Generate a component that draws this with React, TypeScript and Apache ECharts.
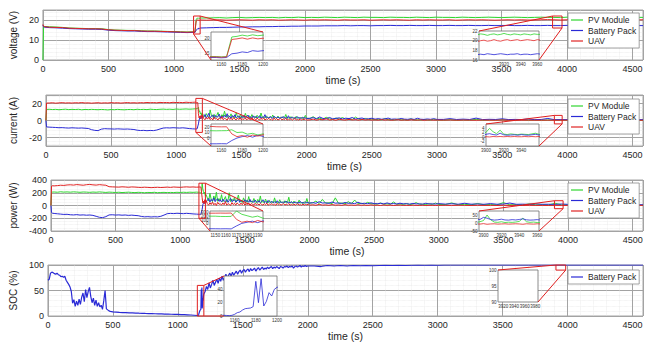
import React, { useEffect, useRef } from 'react';
import * as echarts from 'echarts';

const FONT = '"Liberation Sans", Arial, Helvetica, sans-serif';
const C_PV = '#2fd62f';
const C_BAT = '#2a2ad6';
const C_UAV = '#e02424';
const C_ZOOM = '#e01e1e';

function seq(a: number, b: number, step: number): number[] {
  const out: number[] = [];
  for (let t = a; t <= b + 1e-6; t += step) out.push(Math.round(t * 100) / 100);
  return out;
}

// ---------- time stamps ----------
const T_A = [0, 5, 10, ...seq(25, 1150, 25)];
const T_B = seq(1155, 1200, 5);
const T_C = seq(1210, 2000, 10);
const T_D = seq(2025, 3000, 25);
const T_E = [...seq(3050, 4550, 50), 4580];
const TV_A = [0, 5, 10, ...seq(50, 1150, 50)];
const TV_C = [...seq(1250, 4550, 50), 4580];
const TS_A = seq(0, 500, 10);
const TS_B = seq(525, 1150, 25);
const TS_C = seq(1152.5, 1200, 2.5);
const TS_E = [...seq(2050, 4550, 50), 4580];
const T_I = seq(3888, 3964, 4);

// ---------- voltage (V) ----------
const VOLT_PV_A = [0, 17.0, 16.8, 16.6, 16.5, 16.3, 16.0, 15.9, 15.8, 15.7, 15.7, 15.6, 15.2, 15.0, 14.9, 14.8, 14.8, 14.6, 14.5, 14.5, 14.4, 14.3, 14.2, 14.1, 14.0, 14.1];
const VOLT_UAV_A = [17.8, 16.9, 16.7, 16.4, 16.3, 16.2, 15.9, 15.8, 15.7, 15.6, 15.6, 15.5, 15.1, 14.9, 14.8, 14.7, 14.7, 14.5, 14.4, 14.4, 14.3, 14.2, 14.1, 14.0, 13.9, 14.0];
const VOLT_BAT_A = [17.5, 16.6, 16.4, 16.2, 16.1, 15.9, 15.7, 15.6, 15.5, 15.4, 15.4, 15.3, 14.9, 14.7, 14.6, 14.5, 14.5, 14.3, 14.2, 14.2, 14.1, 14.0, 13.9, 13.8, 13.7, 13.8];
const VOLT_PV_B = [14.1, 14.0, 14.1, 20.4, 20.6, 21.0, 20.7, 21.1, 20.8, 21.0];
const VOLT_UAV_B = [14.0, 13.9, 14.0, 19.6, 19.8, 20.1, 19.7, 20.1, 19.8, 20.0];
const VOLT_BAT_B = [13.8, 13.7, 13.8, 15.0, 15.2, 15.6, 15.4, 16.0, 15.8, 16.0];
const VOLT_PV_C = [
  21.0, 21.1, 21.2, 21.0, 21.2, 21.3, 21.1, 21.2, 21.3, 21.2,
  21.3, 21.1, 21.3, 21.2, 21.4, 21.2, 21.3, 21.2, 21.4, 21.3,
  21.2, 21.4, 21.3, 21.2, 21.4, 21.3, 21.3, 21.2, 21.4, 21.3,
  21.3, 21.2, 21.4, 21.3, 21.2, 21.4, 21.3, 21.3, 21.2, 21.4,
  21.3, 21.2, 21.3, 21.4, 21.3, 21.2, 21.3, 21.4, 21.3, 21.2,
  21.3, 21.4, 21.3, 21.3, 21.2, 21.4, 21.3, 21.2, 21.3, 21.4,
  21.3, 21.2, 21.3, 21.4, 21.3, 21.2, 21.3, 21.3];
const VOLT_UAV_C = [
  19.9, 20.0, 20.1, 19.9, 20.0, 20.1, 20.0, 19.9, 20.1, 20.0,
  20.1, 19.9, 20.0, 20.1, 20.0, 19.9, 20.1, 20.0, 20.1, 20.0,
  19.9, 20.1, 20.0, 20.0, 20.1, 19.9, 20.0, 20.1, 20.0, 20.1,
  20.0, 19.9, 20.1, 20.0, 20.1, 20.0, 20.0, 20.1, 19.9, 20.0,
  20.1, 20.0, 20.1, 20.0, 19.9, 20.0, 20.1, 20.0, 20.1, 20.0,
  20.0, 20.1, 20.2, 20.1, 20.0, 20.1, 20.2, 20.1, 20.0, 20.1,
  20.2, 20.1, 20.0, 20.1, 20.2, 20.1, 20.1, 20.1];
const VOLT_BAT_C = [
  16.1, 16.2, 16.3, 16.3, 16.4, 16.5, 16.5, 16.6, 16.6, 16.7,
  16.7, 16.8, 16.8, 16.9, 16.9, 17.0, 17.0, 17.0, 17.1, 17.1,
  17.1, 17.2, 17.1, 17.2, 17.2, 17.1, 17.2, 17.2, 17.3, 17.2,
  17.2, 17.3, 17.2, 17.2, 17.3, 17.2, 17.2, 17.3, 17.2, 17.2,
  17.3, 17.2, 17.2, 17.3, 17.2, 17.2, 17.3, 17.2, 17.2, 17.3,
  17.2, 17.2, 17.3, 17.2, 17.2, 17.3, 17.2, 17.2, 17.3, 17.2,
  17.2, 17.3, 17.2, 17.2, 17.3, 17.2, 17.2, 17.2];
const VOLT_PV_I = [21.2, 21.4, 21.3, 21.1, 21.3, 21.4, 21.2, 21.3, 21.5, 21.3, 21.2, 21.4, 21.3, 21.2, 21.4, 21.3, 21.2, 21.4, 21.3, 21.3];
const VOLT_UAV_I = [19.8, 20.0, 20.1, 19.9, 20.0, 20.2, 20.0, 19.9, 20.1, 20.2, 20.0, 20.1, 20.2, 20.0, 20.1, 20.2, 20.1, 20.0, 20.2, 20.1];
const VOLT_BAT_I = [17.1, 17.2, 17.1, 17.3, 17.2, 17.1, 17.2, 17.3, 17.2, 17.1, 17.2, 17.2, 17.3, 17.1, 17.2, 17.2, 17.1, 17.2, 17.3, 17.2];

// ---------- current (A) ----------
const CUR_PV_A = [0, 13.0, 12.8,
  13.2, 12.9, 13.1, 12.7, 13.0, 13.3, 12.8, 13.1, 12.9, 13.2,
  12.6, 13.0, 12.8, 13.1, 12.9, 12.7, 13.0, 12.8, 12.5, 12.9,
  12.7, 13.1, 12.8, 12.6, 12.9, 13.0, 12.7, 13.2, 12.9, 13.1,
  12.8, 13.3, 13.0, 12.9, 13.2, 13.4, 13.1, 13.3, 13.0, 13.5,
  13.2, 13.4, 13.6, 13.3, 13.5, 13.8];
const CUR_BAT_A = [0, -7.5, -7.6,
  -7.8, -8.0, -8.2, -8.5, -8.4, -8.7, -8.9, -8.6, -8.8, -9.0,
  -8.8, -9.1, -9.4, -10.8, -11.6, -11.9, -10.2, -9.6, -9.8, -9.9,
  -10.1, -9.8, -10.0, -10.2, -10.0, -10.3, -10.6, -11.4, -11.8, -11.6,
  -12.0, -11.7, -11.9, -11.2, -10.0, -8.9, -8.6, -8.8, -8.5, -8.7,
  -8.9, -8.6, -9.0, -9.5, -9.8, -10.0];
const CUR_UAV_A = [0, 20.5, 20.8,
  20.6, 20.9, 20.4, 20.7, 21.0, 20.6, 20.8, 20.5, 20.9, 20.7,
  21.1, 20.6, 20.8, 20.4, 20.7, 20.9, 20.5, 20.8, 20.6, 21.0,
  20.7, 20.9, 20.5, 20.8, 21.1, 20.7, 20.9, 20.6, 21.0, 20.8,
  21.2, 20.9, 21.1, 20.8, 21.3, 21.0, 21.2, 20.9, 21.4, 21.1,
  21.3, 21.0, 21.5, 21.2, 21.4, 21.6];
const CUR_PV_B = [13.6, 13.8, 13.9, 15.5, 10.5, 11.2, 7.5, 9.0, 6.0, 8.0];
const CUR_BAT_B = [-10.0, -9.8, -10.0, -4.0, 0.5, 3.0, 5.0, 2.0, 5.5, 3.5];
const CUR_UAV_B = [21.0, 20.8, 21.0, 8.0, 3.0, 5.0, 2.0, 6.0, 4.0, 6.5];
const CUR_PV_C = [
  6.5, 4.2, 8.1, 5.0, 3.8, 12.5, 5.5, 4.0, 7.2, 3.6,
  5.8, 9.5, 4.1, 3.3, 6.9, 4.5, 11.0, 4.8, 3.5, 6.0,
  4.2, 7.8, 3.9, 5.1, 3.0, 9.0, 4.4, 3.6, 6.3, 3.8,
  5.0, 3.2, 8.4, 4.0, 3.4, 5.6, 3.1, 7.0, 3.9, 4.6,
  3.0, 6.2, 3.7, 2.9, 8.8, 3.5, 4.2, 2.8, 5.5, 3.3,
  2.7, 4.8, 3.1, 6.5, 2.9, 3.6, 2.5, 5.2, 3.0, 2.6,
  4.4, 2.8, 3.3, 7.1, 2.7, 3.5, 2.4, 4.6, 2.9, 3.1,
  2.3, 5.0, 2.6, 3.2, 2.5, 4.1, 2.2, 2.9, 6.0, 2.6];
const CUR_BAT_C = [
  4.5, 7.0, 2.8, 5.5, 8.5, 3.2, 4.8, 6.6, 2.5, 5.9,
  3.8, 4.6, 7.4, 2.9, 5.2, 3.5, 6.1, 4.0, 8.0, 3.1,
  4.9, 2.7, 5.8, 3.9, 6.8, 3.0, 4.4, 5.3, 2.6, 4.7,
  3.6, 5.9, 2.8, 4.3, 6.4, 3.1, 4.0, 2.7, 5.5, 3.4,
  4.6, 2.9, 3.8, 5.7, 2.6, 4.2, 3.3, 6.9, 3.0, 3.9,
  2.8, 4.5, 3.2, 2.7, 5.1, 3.5, 2.9, 4.1, 2.6, 3.7,
  3.0, 4.8, 2.7, 3.4, 2.5, 5.6, 3.1, 2.8, 3.9, 2.6,
  3.3, 2.4, 4.4, 2.9, 3.1, 2.5, 3.8, 2.7, 3.2, 2.4];
const CUR_UAV_C = [
  2.5, 0.8, 3.5, 1.6, 4.2, 1.0, 2.8, 0.5, 3.9, 1.7,
  2.2, 0.6, 3.1, 1.4, 4.5, 0.9, 2.6, 1.8, 0.4, 3.3,
  1.2, 2.7, 0.7, 3.6, 1.5, 0.8, 2.9, 1.1, 3.4, 0.6,
  2.0, 1.3, 3.0, 0.5, 2.4, 1.6, 0.9, 3.2, 1.0, 2.1,
  0.6, 2.8, 1.4, 0.7, 2.5, 1.2, 3.1, 0.5, 1.9, 1.1,
  2.6, 0.8, 1.7, 0.4, 2.9, 1.0, 2.2, 0.6, 1.5, 2.4,
  0.7, 1.8, 1.0, 2.7, 0.5, 1.6, 0.9, 2.1, 0.6, 1.4,
  2.3, 0.8, 1.2, 0.5, 1.9, 0.7, 1.5, 1.0, 2.0, 0.6];
const CUR_PV_D = [2.2, 4.5, 1.8, 2.6, 1.5, 3.8, 2.0, 1.4, 2.9, 1.6, 3.5, 1.3, 2.1, 1.2, 4.0, 1.5, 1.1, 2.4, 1.0, 1.7,
  0.9, 1.4, 0.8, 2.2, 0.9, 1.1, 0.7, 1.6, 0.8, 1.0, 0.6, 1.9, 0.7, 0.9, 0.6, 1.2, 0.8, 0.6, 1.5, 0.7];
const CUR_BAT_D = [2.6, 3.4, 2.1, 4.2, 2.4, 2.0, 3.6, 1.9, 2.5, 3.1, 1.8, 2.7, 2.2, 3.5, 1.7, 2.3, 2.9, 1.6, 2.1, 2.6,
  1.6, 2.2, 1.5, 1.9, 2.8, 1.5, 1.8, 1.4, 2.4, 1.6, 1.4, 1.9, 1.3, 2.6, 1.5, 1.3, 1.8, 1.4, 2.1, 1.3];
const CUR_UAV_D = [0.8, 1.6, 0.5, 1.2, 0.9, 2.0, 0.6, 1.1, 0.4, 1.5, 0.8, 0.5, 1.3, 0.7, 1.0, 0.4, 1.2, 0.6, 0.9, 0.5,
  0.7, 0.4, 1.0, 0.5, 0.8, 0.3, 0.6, 0.9, 0.4, 0.6, 0.3, 0.8, 0.5, 0.4, 0.7, 0.3, 0.5, 0.6, 0.4, 0.5];
const CUR_PV_E = [0.6, 1.0, 0.5, 0.8, 0.6, 1.3, 0.5, 0.7, 0.6, 0.9, 0.5, 0.6, 1.1, 0.5, 0.7, 0.5, 0.6, 0.8, 0.5, 0.6,
  0.5, 0.7, 0.5, 0.6, 0.5, 0.6, 0.5, 0.5, 0.6, 0.5, 0.5, 0.5];
const CUR_BAT_E = [1.3, 2.2, 1.2, 1.6, 1.2, 2.8, 1.1, 1.4, 1.2, 2.0, 1.1, 1.3, 1.1, 1.8, 1.0, 1.2, 2.4, 1.0, 1.1, 1.0,
  1.3, 1.0, 1.0, 1.1, 1.0, 1.0, 1.1, 1.0, 1.0, 1.0, 1.0, 1.0];
const CUR_UAV_E = [0.4, 0.6, 0.3, 0.5, 0.4, 0.3, 0.5, 0.4, 0.3, 0.6, 0.3, 0.4, 0.3, 0.4, 0.3, 0.3, 0.4, 0.3, 0.3, 0.4,
  0.3, 0.3, 0.3, 0.3, 0.3, 0.3, 0.3, 0.3, 0.3, 0.3, 0.3, 0.3];
const CUR_PV_I = [1.2, 1.5, 1.3, 2.2, 4.0, 2.5, 1.6, 3.2, 1.4, 1.2, 1.5, 1.3, 1.2, 1.4, 1.3, 1.2, 1.5, 1.8, 1.3, 1.2];
const CUR_BAT_I = [1.0, 1.1, 0.9, 1.3, 1.6, 1.2, 1.0, 1.8, 1.1, 0.9, 1.0, 1.1, 0.9, 1.2, 1.0, 0.9, 1.1, 1.3, 1.0, 0.9];
const CUR_UAV_I = [0.3, 0.2, 0.3, 0.2, 0.1, 0.3, 0.2, 0.3, 0.2, 0.3, 0.2, 0.3, 0.2, 0.2, 0.3, 0.2, 0.3, 0.2, 0.3, 0.2];

// ---------- power (W) ----------
const POW_PV_A = [0, 205, 210,
  212, 208, 215, 210, 213, 209, 214, 211, 207, 212,
  210, 206, 211, 208, 213, 209, 205, 210, 207, 204,
  208, 203, 206, 209, 205, 202, 207, 204, 200, 205,
  203, 207, 201, 204, 206, 202, 205, 203, 207, 204,
  208, 205, 209, 206, 210, 207];
const POW_UAV_A = [0, 305, 310,
  308, 312, 318, 315, 322, 325, 320, 328, 323, 318,
  326, 330, 324, 320, 327, 322, 318, 295, 292, 290,
  288, 293, 290, 286, 291, 289, 285, 283, 287, 284,
  280, 283, 286, 282, 285, 288, 284, 290, 287, 285,
  289, 292, 288, 291, 287, 290];
const POW_BAT_A = [0, -110, -120,
  -125, -130, -135, -140, -138, -145, -148, -143, -150, -147,
  -152, -149, -155, -170, -185, -190, -175, -148, -145, -150,
  -147, -152, -149, -155, -151, -156, -160, -172, -178, -175,
  -180, -176, -179, -170, -150, -128, -124, -127, -122, -125,
  -128, -123, -127, -132, -135, -138];
const POW_PV_B = [200, 198, 202, 350, 260, 220, 180, 210, 150, 170];
const POW_BAT_B = [-140, -138, -142, -60, 10, 40, 70, 30, 80, 50];
const POW_UAV_B = [292, 290, 294, 120, 40, 70, 30, 90, 50, 80];
const POW_PV_C = [
  120, 70, 190, 95, 60, 150, 80, 210, 65, 110,
  75, 170, 60, 95, 140, 55, 85, 200, 60, 100,
  70, 130, 50, 90, 165, 55, 80, 45, 120, 60,
  85, 50, 140, 55, 70, 45, 110, 60, 40, 95,
  50, 150, 45, 65, 40, 100, 55, 40, 80, 45,
  60, 38, 120, 45, 55, 35, 90, 42, 60, 35,
  75, 40, 50, 130, 38, 55, 32, 70, 40, 48,
  32, 85, 38, 45, 30, 60, 35, 110, 34, 42];
const POW_BAT_C = [
  80, 110, 55, 95, 70, 120, 60, 90, 105, 65,
  85, 55, 100, 70, 60, 95, 50, 80, 110, 60,
  75, 90, 55, 70, 100, 50, 85, 65, 55, 90,
  60, 80, 50, 95, 55, 70, 48, 85, 60, 52,
  75, 45, 65, 90, 50, 60, 42, 80, 55, 48,
  65, 45, 58, 40, 75, 50, 44, 62, 40, 55,
  48, 70, 42, 52, 38, 60, 45, 40, 55, 38,
  50, 36, 62, 42, 46, 35, 55, 40, 48, 36];
const POW_UAV_C = [
  30, 5, 45, 15, 55, 10, 35, 0, 50, 20,
  25, 8, 40, 12, 60, 5, 30, 18, 2, 45,
  15, 35, 5, 40, 20, 8, 38, 12, 45, 6,
  25, 15, 40, 4, 30, 18, 8, 35, 10, 28,
  5, 32, 15, 6, 30, 12, 38, 4, 22, 14,
  30, 8, 20, 3, 34, 10, 25, 5, 18, 28,
  6, 20, 10, 30, 4, 18, 8, 24, 5, 15,
  26, 7, 13, 4, 21, 6, 16, 9, 22, 5];
const POW_PV_D = [40, 70, 30, 95, 35, 45, 28, 120, 32, 40, 26, 60, 30, 85, 28, 35, 24, 50, 28, 26,
  22, 40, 20, 26, 18, 55, 20, 24, 18, 30, 16, 22, 45, 18, 20, 16, 28, 17, 38, 16];
const POW_BAT_D = [45, 35, 60, 38, 42, 32, 55, 36, 40, 30, 48, 34, 38, 28, 52, 30, 35, 27, 42, 30,
  28, 34, 25, 40, 26, 30, 24, 36, 26, 28, 22, 32, 25, 27, 21, 35, 24, 26, 22, 30];
const POW_UAV_D = [12, 4, 18, 6, 10, 3, 15, 5, 9, 2, 14, 4, 8, 2, 12, 3, 7, 1, 10, 3,
  5, 1, 8, 2, 6, 0, 4, 7, 1, 3, 0, 5, 2, 1, 4, 0, 3, 2, 1, 2];
const POW_PV_E = [14, 40, 12, 18, 11, 30, 12, 15, 10, 45, 11, 13, 10, 25, 10, 12, 10, 35, 10, 11,
  6, 5, 6, 5, 5, 6, 5, 5, 5, 5, 5, 5];
const POW_BAT_E = [22, 28, 20, 35, 21, 24, 19, 30, 20, 22, 38, 19, 21, 18, 26, 19, 20, 17, 24, 18,
  15, 14, 13, 14, 12, 13, 12, 12, 13, 12, 12, 12];
const POW_UAV_E = [3, 1, 4, 2, 0, 3, 1, 2, 0, 4, 1, 2, 0, 3, 1, 1, 0, 2, 1, 0,
  2, 1, 2, 1, 2, 1, 2, 2, 1, 2, 2, 2];
const POW_PV_I = [5, 3, 8, 15, 50, 20, 6, 4, 8, 3, 5, 4, 6, 10, 30, 8, 4, 6, 3, 5];
const POW_BAT_I = [18, 20, 22, 35, 30, 22, 18, 20, 24, 19, 18, 21, 19, 22, 26, 20, 18, 19, 21, 18];
const POW_UAV_I = [-6, -5, -7, -4, -8, -6, -5, -7, -6, -5, -7, -6, -5, -6, -8, -5, -6, -7, -5, -6];

// ---------- SOC (%) ----------
const SOC_A = [
  70, 72, 84, 86, 85, 83, 82, 84, 81, 80,
  77, 78, 76, 78, 70, 66, 62, 57, 48, 25,
  32, 19, 29, 21, 33, 23, 37, 45, 28, 52,
  36, 48, 56, 38, 26, 35, 21, 31, 19, 26,
  18, 21, 13, 30, 50, 14, 12, 10, 9, 8.5, 8];
const SOC_B = [7.5, 7, 6.8, 6.5, 6.2, 6, 5.8, 5.5, 5.3, 5, 4.8, 4.6, 4.4, 4.2, 4, 3.8, 3.6, 3.4, 3.2, 3, 2.8, 2.6, 2.3, 2, 1.5, 1.0];
const SOC_C = [0.8, 0.6, 1.0, 2.5, 5, 6, 9, 11, 11.5, 12, 14, 52, 20, 56, 15, 22, 35, 30, 40, 43];
const SOC_D = [
  48, 58, 52, 65, 55, 62, 70, 60, 66, 72,
  64, 74, 68, 78, 70, 76, 82, 74, 80, 84,
  78, 86, 80, 84, 88, 82, 87, 90, 84, 89,
  91, 86, 90, 92, 87, 93, 89, 91, 94, 88,
  92, 95, 90, 93, 96, 91, 94, 92, 96, 93,
  95, 97, 93, 96, 94, 97, 95, 93, 97, 96,
  94, 97, 96, 98, 95, 97, 96, 98, 94, 97,
  98, 96, 97, 99, 96, 98, 97, 99, 97, 98];
const SOC_E = [
  98, 97, 99, 98, 99, 98, 99, 98.5, 99, 98.5,
  99, 99.5, 99, 99.5, 99, 99.5, 100, 99.5, 100, 99.5,
  100, 100, 100, 100, 100, 100, 100, 100, 100, 100,
  100, 100, 100, 100, 100, 100, 100, 100, 100, 100,
  100, 100, 100, 100, 100, 100, 100, 100, 100, 100,
  100, 100];

// ---------- axis tick labels / names ----------
const X_TICKS = [0, 500, 1000, 1500, 2000, 2500, 3000, 3500, 4000, 4500];
const Y_NAMES = ['voltage (V)', 'current (A)', 'power (W)', 'SOC (%)'];

const pairs = (segs: any[]) =>
  segs.flatMap(([ts, vs]: [number[], number[]]) => ts.slice(0, vs.length).map((t, i) => [t, vs[i]]));

const V_PV = pairs([[TV_A, VOLT_PV_A], [T_B, VOLT_PV_B], [TV_C, VOLT_PV_C]]);
const V_BAT = pairs([[TV_A, VOLT_BAT_A], [T_B, VOLT_BAT_B], [TV_C, VOLT_BAT_C]]);
const V_UAV = pairs([[TV_A, VOLT_UAV_A], [T_B, VOLT_UAV_B], [TV_C, VOLT_UAV_C]]);
const I_PV = pairs([[T_A, CUR_PV_A], [T_B, CUR_PV_B], [T_C, CUR_PV_C], [T_D, CUR_PV_D], [T_E, CUR_PV_E]]);
const I_BAT = pairs([[T_A, CUR_BAT_A], [T_B, CUR_BAT_B], [T_C, CUR_BAT_C], [T_D, CUR_BAT_D], [T_E, CUR_BAT_E]]);
const I_UAV = pairs([[T_A, CUR_UAV_A], [T_B, CUR_UAV_B], [T_C, CUR_UAV_C], [T_D, CUR_UAV_D], [T_E, CUR_UAV_E]]);
const P_PV = pairs([[T_A, POW_PV_A], [T_B, POW_PV_B], [T_C, POW_PV_C], [T_D, POW_PV_D], [T_E, POW_PV_E]]);
const P_BAT = pairs([[T_A, POW_BAT_A], [T_B, POW_BAT_B], [T_C, POW_BAT_C], [T_D, POW_BAT_D], [T_E, POW_BAT_E]]);
const P_UAV = pairs([[T_A, POW_UAV_A], [T_B, POW_UAV_B], [T_C, POW_UAV_C], [T_D, POW_UAV_D], [T_E, POW_UAV_E]]);
const SOC = pairs([[TS_A, SOC_A], [TS_B, SOC_B], [TS_C, SOC_C], [T_C, SOC_D], [TS_E, SOC_E]]);

// main panels layout
const MAIN = [
  { top: 10, height: 50, min: 0, max: 25, interval: 10, split: undefined, minor: 5, show: (v: number) => v % 10 === 0 && v <= 20 },
  { top: 95, height: 51, min: -30, max: 30, interval: undefined, split: 3, minor: 5, show: (v: number) => v % 20 === 0 && Math.abs(v) < 30 },
  { top: 180, height: 51, min: -400, max: 400, interval: 200, split: undefined, minor: 4, show: (_v: number) => true },
  { top: 265, height: 51, min: 0, max: 100, interval: 50, split: undefined, minor: 5, show: (_v: number) => true },
];

// insets: grid box, axis window, tick intervals and which labels to show, links
const INSETS = [
  { main: 0, box: [211, 32, 52, 28], x: [1150, 1200], y: [13, 22], xi: 10, yi: 1, xs: (v: number) => v % 20 === 0 && v > 1150, ys: (v: number) => v % 5 === 0, links: [['tr', 'tr'], ['bl', 'bl']] },
  { main: 0, box: [479, 31, 60, 29], x: [3890, 3962], y: [16, 22], xi: 10, yi: 2, xs: (v: number) => v % 20 === 0 && v >= 3920, ys: (_v: number) => true, links: [['tl', 'tl'], ['br', 'br']] },
  { main: 1, box: [211, 124, 52, 22], x: [1150, 1200], y: [-14, 26], xi: 10, yi: 2, xs: (v: number) => v % 20 === 0 && v > 1150, ys: (v: number) => v % 10 === 0 && v >= 0 && v <= 20, links: [['tr', 'tr'], ['bl', 'bl']] },
  { main: 1, box: [486, 124, 53, 22], x: [3900, 3960], y: [-4, 6], xi: 20, yi: 2, xs: (v: number) => v < 3960, ys: (_v: number) => true, links: [['tl', 'tl'], ['br', 'br']] },
  { main: 2, box: [210, 211, 53, 20], x: [1145, 1195], y: [-200, 350], xi: 5, yi: 50, xs: (v: number) => v % 10 === 0, ys: (v: number) => v % 100 === 0 && v >= 0 && v <= 300, links: [['tr', 'tr'], ['bl', 'bl']] },
  { main: 2, box: [479, 211, 60, 20], x: [3895, 3962], y: [-50, 75], xi: 5, yi: 25, xs: (v: number) => v % 20 === 0, ys: (v: number) => v % 50 === 0, links: [['tl', 'tl'], ['br', 'br']] },
  { main: 3, box: [224, 276, 53, 40], x: [1150, 1200], y: [0, 60], xi: 10, yi: 20, xs: (v: number) => v % 20 === 0 && v > 1150, ys: (v: number) => v <= 40, links: [['tr', 'tl'], ['br', 'bl']] },
  { main: 3, box: [498, 270, 40, 32], x: [3910, 3985], y: [90, 100], xi: 10, yi: 5, xs: (v: number) => v % 20 === 0, ys: (_v: number) => true, links: [['tl', 'tl'], ['br', 'br']] },
];

const line = (name: string, color: string, data: any[], idx: number, z = 2, width = 1) => ({
  type: 'line', name, data, xAxisIndex: idx, yAxisIndex: idx, symbol: 'none', showSymbol: false,
  color, lineStyle: { color, width }, z, silent: true, animation: false, clip: true,
});

function buildOption() {
  const grids: any[] = [];
  const xAxes: any[] = [];
  const yAxes: any[] = [];
  MAIN.forEach((m, i) => {
    grids.push({ left: 42, width: 601, top: m.top, height: m.height, show: true, borderColor: '#a6a6a6', borderWidth: 1, backgroundColor: 'transparent' });
    xAxes.push({
      type: 'value', gridIndex: i, min: 0, max: 4580, interval: 500,
      axisLine: { show: false }, axisTick: { show: false },
      axisLabel: { fontSize: 9, color: '#262626', margin: 4, fontFamily: FONT, formatter: (v: number) => (X_TICKS.includes(v) ? String(v) : '') },
      splitLine: { show: true, lineStyle: { color: '#a3a3a3', width: 1 } },
      minorTick: { show: false, splitNumber: 5 },
      minorSplitLine: { show: true, lineStyle: { color: '#e2e2e2', width: 0.6, type: 'dotted' } },
      name: 'time (s)', nameLocation: 'middle', nameGap: 14,
      nameTextStyle: { fontSize: 10.5, color: '#262626', fontFamily: FONT },
    });
    const y: any = {
      type: 'value', gridIndex: i, min: m.min, max: m.max,
      axisLine: { show: false }, axisTick: { show: false },
      axisLabel: { fontSize: 9, color: '#262626', margin: 4, fontFamily: FONT, formatter: (v: number) => (m.show(v) ? String(v) : '') },
      splitLine: { show: true, lineStyle: { color: '#a3a3a3', width: 1 } },
      minorTick: { show: false, splitNumber: m.minor },
      minorSplitLine: { show: true, lineStyle: { color: '#e2e2e2', width: 0.6, type: 'dotted' } },
      name: Y_NAMES[i], nameLocation: 'middle', nameGap: 14,
      nameTextStyle: { fontSize: 10, color: '#262626', fontFamily: FONT },
    };
    if (m.interval !== undefined) y.interval = m.interval;
    if (m.split !== undefined) y.splitNumber = m.split;
    yAxes.push(y);
  });
  INSETS.forEach((s, k) => {
    const gi = 4 + k;
    grids.push({ left: s.box[0], top: s.box[1], width: s.box[2], height: s.box[3], show: true, backgroundColor: '#ffffff', borderColor: '#6e6e6e', borderWidth: 0.8, z: 5 });
    const lab = (f: (v: number) => boolean) => ({ fontSize: 4.5, color: '#333', margin: 1.5, fontFamily: FONT, formatter: (v: number) => (f(v) ? String(v) : '') });
    xAxes.push({ type: 'value', gridIndex: gi, min: s.x[0], max: s.x[1], interval: s.xi, z: 6, axisLine: { show: false }, axisTick: { show: false }, splitLine: { show: false }, axisLabel: lab(s.xs) });
    yAxes.push({ type: 'value', gridIndex: gi, min: s.y[0], max: s.y[1], interval: s.yi, z: 6, axisLine: { show: false }, axisTick: { show: false }, splitLine: { show: false }, axisLabel: lab(s.ys) });
  });

  const pairI = (vs: number[]) => T_I.map((t, i) => [t, vs[i]]);
  const series: any[] = [
    line('PV Module', C_PV, V_PV, 0), line('Battery Pack', C_BAT, V_BAT, 0), line('UAV', C_UAV, V_UAV, 0),
    line('PV Module', C_PV, I_PV, 1), line('Battery Pack', C_BAT, I_BAT, 1), line('UAV', C_UAV, I_UAV, 1),
    line('PV Module', C_PV, P_PV, 2), line('Battery Pack', C_BAT, P_BAT, 2), line('UAV', C_UAV, P_UAV, 2),
    line('Battery Pack', C_BAT, SOC, 3, 2, 1.2),
    // insets
    line('PV Module', C_PV, V_PV, 4, 7, 0.8), line('Battery Pack', C_BAT, V_BAT, 4, 7, 0.8), line('UAV', C_UAV, V_UAV, 4, 7, 0.8),
    line('PV Module', C_PV, pairI(VOLT_PV_I), 5, 7, 0.8), line('Battery Pack', C_BAT, pairI(VOLT_BAT_I), 5, 7, 0.8), line('UAV', C_UAV, pairI(VOLT_UAV_I), 5, 7, 0.8),
    line('PV Module', C_PV, I_PV, 6, 7, 0.8), line('Battery Pack', C_BAT, I_BAT, 6, 7, 0.8), line('UAV', C_UAV, I_UAV, 6, 7, 0.8),
    line('PV Module', C_PV, pairI(CUR_PV_I), 7, 7, 0.8), line('Battery Pack', C_BAT, pairI(CUR_BAT_I), 7, 7, 0.8), line('UAV', C_UAV, pairI(CUR_UAV_I), 7, 7, 0.8),
    line('PV Module', C_PV, P_PV, 8, 7, 0.8), line('Battery Pack', C_BAT, P_BAT, 8, 7, 0.8), line('UAV', C_UAV, P_UAV, 8, 7, 0.8),
    line('PV Module', C_PV, pairI(POW_PV_I), 9, 7, 0.8), line('Battery Pack', C_BAT, pairI(POW_BAT_I), 9, 7, 0.8), line('UAV', C_UAV, pairI(POW_UAV_I), 9, 7, 0.8),
    line('Battery Pack', C_BAT, SOC, 10, 7, 0.8),
  ];

  const legend = (top: number, names: string[]) => ({
    left: 568, top, orient: 'vertical', data: names, icon: 'rect', itemWidth: 12, itemHeight: 1.2, itemGap: 0.5,
    padding: [2, 3, 2, 3], backgroundColor: '#ffffff', borderColor: '#8a8a8a', borderWidth: 0.8, selectedMode: false,
    textStyle: { fontSize: 8.5, lineHeight: 10, color: '#262626', fontFamily: FONT },
  });
  const three = ['PV Module', 'Battery Pack', 'UAV'];

  return {
    animation: false,
    backgroundColor: '#ffffff',
    textStyle: { fontFamily: FONT },
    grid: grids,
    xAxis: xAxes,
    yAxis: yAxes,
    legend: [legend(13, three), legend(99, three), legend(183, three), legend(270, ['Battery Pack'])],
    series,
  };
}

function buildZoomGraphics(chart: any) {
  const out: any[] = [];
  INSETS.forEach((s, k) => {
    const gi = 4 + k;
    const [x0, x1] = s.x;
    const [y0, y1] = s.y;
    const m = (x: number, y: number) => chart.convertToPixel({ gridIndex: s.main }, [x, y]);
    const n = (x: number, y: number) => chart.convertToPixel({ gridIndex: gi }, [x, y]);
    const corner = (f: any, c: string) => (c === 'tl' ? f(x0, y1) : c === 'tr' ? f(x1, y1) : c === 'bl' ? f(x0, y0) : f(x1, y0));
    const a = m(x0, y1);
    const b = m(x1, y0);
    out.push({ type: 'rect', z: 20, silent: true, shape: { x: a[0], y: a[1], width: b[0] - a[0], height: b[1] - a[1] }, style: { fill: 'none', stroke: C_ZOOM, lineWidth: 1 } });
    s.links.forEach(([p, q]) => {
      const P = corner(m, p);
      const Q = corner(n, q);
      out.push({ type: 'line', z: 20, silent: true, shape: { x1: P[0], y1: P[1], x2: Q[0], y2: Q[1] }, style: { stroke: C_ZOOM, lineWidth: 1 } });
    });
  });
  return out;
}

export default function App() {
  const ref = useRef<HTMLDivElement>(null);
  useEffect(() => {
    const chart = echarts.init(ref.current as HTMLDivElement, undefined, { renderer: 'svg' });
    chart.setOption(buildOption() as any);
    chart.setOption({ graphic: buildZoomGraphics(chart) } as any);
    return () => chart.dispose();
  }, []);
  return <div ref={ref} style={{ position: 'fixed', left: 0, top: 0, width: 652, height: 343, background: '#fff' }} />;
}
